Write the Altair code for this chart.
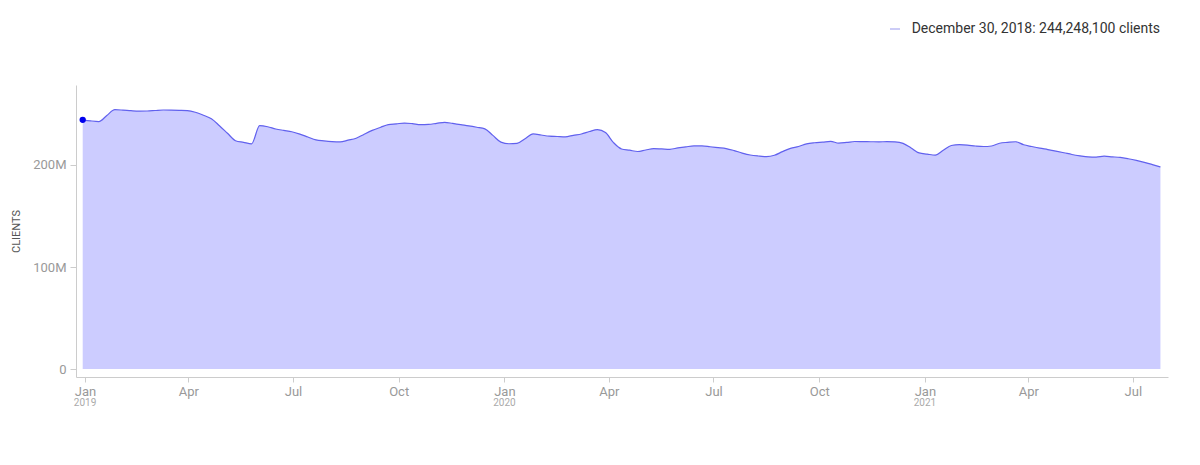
import altair as alt
import pandas as pd

# Weekly desktop client counts (millions), starting 2018-12-30
start_date = "2018-12-30"
clients_m = [
    244.2481, 243.2, 242.6, 248.5, 254.2, 253.8, 253.2, 252.8, 252.9, 253.4,
    253.9, 253.8, 253.6, 253.3, 251.7, 248.8, 245.3, 238.5, 231.1, 223.8,
    222.2, 220.7, 238.6, 237.5, 235.3, 233.9, 232.6, 230.3, 227.4, 224.6,
    223.6, 222.9, 222.6, 224.3, 226.2, 230.2, 233.9, 236.8, 239.6, 240.3,
    241.1, 240.5, 239.5, 239.8, 240.8, 241.8, 240.7, 239.5, 238.4, 237.0,
    235.4, 229.0, 222.4, 220.8, 221.2, 225.8, 230.4, 229.4, 228.2, 227.9,
    227.6, 229.1, 230.4, 232.8, 234.7, 231.8, 221.9, 215.7, 214.5, 213.2,
    214.7, 216.0, 215.7, 215.4, 216.7, 217.8, 218.7, 218.7, 217.9, 217.0,
    216.1, 214.1, 211.7, 209.8, 208.8, 208.2, 209.5, 213.1, 216.3, 218.1,
    220.7, 221.8, 222.4, 223.1, 221.4, 222.1, 223.0, 222.9, 222.8, 222.7,
    222.9, 222.7, 221.2, 216.7, 211.8, 210.7, 209.7, 214.5, 219.1, 219.9,
    219.5, 218.6, 218.1, 218.6, 221.3, 222.2, 222.8, 219.8, 218.1, 216.5,
    215.1, 213.6, 212.0, 210.3, 209.0, 208.0, 207.8, 208.6, 208.0, 207.4,
    206.1, 204.5, 202.6, 200.4, 198.1,
]

tick_dates = [
    "2019-01-01", "2019-04-01", "2019-07-01", "2019-10-01",
    "2020-01-01", "2020-04-01", "2020-07-01", "2020-10-01",
    "2021-01-01", "2021-04-01", "2021-07-01",
]
year_dates = ["2019-01-01", "2020-01-01", "2021-01-01"]
year_labels = ["2019", "2020", "2021"]
y_ticks = [0, 100_000_000, 200_000_000]
legend_text = "December 30, 2018: 244,248,100 clients"

dates = [d.strftime("%Y-%m-%d") for d in pd.date_range(start_date, periods=len(clients_m), freq="7D")]
df = pd.DataFrame({"date": dates, "clients": [v * 1_000_000 for v in clients_m]})
first = df.iloc[[0]].assign(label=legend_text)
years_df = pd.DataFrame({"date": year_dates, "label": year_labels})

FONT = "Roboto"
W, H = 1092, 292

def dt(s, h=0):
    y, m, d = [int(p) for p in s.split("-")]
    return alt.DateTime(year=y, month=m, date=d, hours=h, utc=True)

x_scale = alt.Scale(type="utc", domain=[dt("2018-12-24", 4), dt("2021-07-31", 14)])
y_scale = alt.Scale(domain=[-7_800_000, 278_400_000], nice=False, zero=False)

x_axis = alt.Axis(
    values=[dt(s) for s in tick_dates], format="%b", title=None, grid=False,
    domainColor="#cccccc", tickColor="#cccccc", tickSize=5, labelColor="#999999",
    labelFont=FONT, labelFontSize=13, labelPadding=3, labelFlush=False,
)
y_axis = alt.Axis(
    values=y_ticks, labelExpr="datum.value == 0 ? '0' : format(datum.value / 1e6, 'd') + 'M'",
    title="CLIENTS", titleFont=FONT, titleFontSize=11, titleFontWeight="normal",
    titleColor="#555555", titleX=-60, titleY=H / 2, titleAngle=270, titleBaseline="middle",
    grid=False, domainColor="#cccccc", tickColor="#cccccc", tickSize=6,
    labelColor="#999999", labelFont=FONT, labelFontSize=13, labelPadding=4,
)

base = alt.Chart(df)
area = base.mark_area(interpolate="monotone", color="#ccccff", opacity=1).encode(
    x=alt.X("date:T", scale=x_scale, axis=x_axis),
    y=alt.Y("clients:Q", scale=y_scale, axis=y_axis),
)
line = base.mark_line(interpolate="monotone", color="#6161ee", strokeWidth=1.2).encode(
    x=alt.X("date:T", scale=x_scale),
    y=alt.Y("clients:Q", scale=y_scale),
)
dot = alt.Chart(first).mark_circle(color="#0000ee", opacity=1, size=40).encode(
    x=alt.X("date:T", scale=x_scale),
    y=alt.Y("clients:Q", scale=y_scale),
)
years = alt.Chart(years_df).mark_text(
    font=FONT, fontSize=10, color="#aaaaaa", baseline="middle", align="center"
).encode(
    x=alt.X("date:T", scale=x_scale),
    y=alt.value(H + 26),
    text="label:N",
)
dash = alt.Chart(first).mark_rule(color="#9999ee", strokeWidth=1).encode(
    x=alt.value(814), x2=alt.value(824), y=alt.value(-56),
)
legend = alt.Chart(first).mark_text(
    font=FONT, fontSize=14, color="#333333", align="right", baseline="middle"
).encode(
    x=alt.value(1084), y=alt.value(-56), text="label:N",
)

chart = (
    alt.layer(area, line, dot, years, dash, legend)
    .properties(
        width=W, height=H,
        autosize=alt.AutoSizeParams(type="none"),
        padding={"left": 68, "top": 77, "right": 20, "bottom": 80},
    )
    .configure_view(stroke=None)
)

chart.save("out.html", embed_options={"renderer": "svg", "actions": False})
